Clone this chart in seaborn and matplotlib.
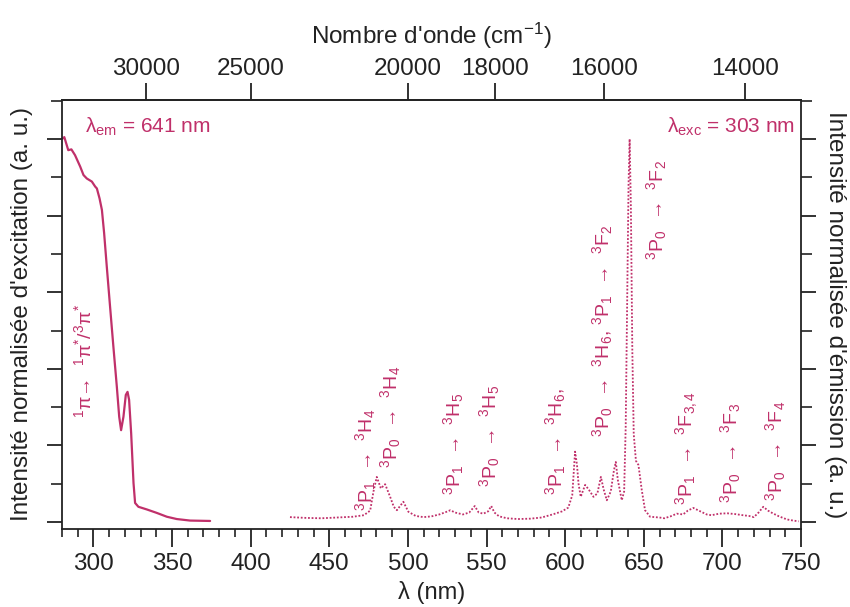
import numpy as np
import matplotlib
matplotlib.use("Agg")
import matplotlib.pyplot as plt
from matplotlib.ticker import MultipleLocator, NullLocator
import seaborn as sns

# ---------------- data ----------------
exc_wl = [280.0, 281.5, 284.0, 286.0, 288.3, 291.6, 293.7, 295.8, 299.0, 301.1,
          302.2, 303.9, 305.4, 306.8, 308.5, 310.6, 312.7, 314.9, 316.4, 317.6,
          319.1, 320.6, 321.7, 322.7, 324.0, 325.5, 326.5, 328.6, 334.0, 340.3,
          346.7, 353.0, 361.5, 374.2]
exc_int = [1.000, 1.005, 0.971, 0.973, 0.958, 0.928, 0.906, 0.897, 0.889, 0.876,
           0.871, 0.845, 0.815, 0.755, 0.667, 0.562, 0.458, 0.353, 0.275, 0.240,
           0.275, 0.332, 0.340, 0.319, 0.232, 0.102, 0.050, 0.040, 0.033, 0.024,
           0.014, 0.008, 0.004, 0.003]

em_wl = [425, 435, 445, 455, 465, 472, 476, 478.1, 480.2, 482.8, 485.5, 488.7,
         491, 493, 495, 497.1, 500.3, 505, 510, 515, 520, 524, 527, 530, 535,
         539, 542.5, 545, 548, 551, 553, 555, 558, 563, 570, 578, 585, 592, 598,
         602, 604.5, 606.3, 607.5, 608.5, 609.9, 612.7, 615, 618, 620.5, 622.7,
         624.5, 626.5, 629, 631, 632.2, 633.5, 636, 637.5, 638.5, 639.5, 640.3,
         641.0, 641.8, 642.7, 643.6, 645, 646.6, 648.7, 650.8, 654, 660, 663, 667,
         671, 675, 678, 681.5, 685, 690, 693, 698, 703, 708, 713, 717, 720, 723,
         726, 729, 732, 736, 741, 745, 748.5]
em_int = [0.013, 0.011, 0.010, 0.012, 0.014, 0.018, 0.030, 0.080, 0.118, 0.088,
          0.099, 0.066, 0.040, 0.031, 0.042, 0.053, 0.027, 0.016, 0.013, 0.015,
          0.020, 0.026, 0.031, 0.025, 0.020, 0.025, 0.042, 0.025, 0.022, 0.028,
          0.042, 0.025, 0.015, 0.010, 0.008, 0.009, 0.012, 0.020, 0.028, 0.038,
          0.070, 0.184, 0.150, 0.100, 0.066, 0.097, 0.085, 0.066, 0.075, 0.118,
          0.085, 0.057, 0.080, 0.135, 0.157, 0.110, 0.057, 0.080, 0.250, 0.600,
          0.880, 1.000, 0.820, 0.450, 0.230, 0.160, 0.149, 0.084, 0.031, 0.014,
          0.012, 0.010, 0.015, 0.022, 0.020, 0.030, 0.037, 0.030, 0.020, 0.018,
          0.022, 0.023, 0.021, 0.018, 0.016, 0.013, 0.025, 0.040, 0.030, 0.023,
          0.015, 0.007, 0.004, 0.002]

x_ticks = [300, 350, 400, 450, 500, 550, 600, 650, 700, 750]
top_ticks = [30000, 25000, 20000, 18000, 16000, 14000]

labels_text = [
    r"$^{1}$π→  $^{1}$π$^{*}$/$^{3}$π$^{*}$",
    r"$^{3}$P$_{1}$  →  $^{3}$H$_{4}$",
    r"$^{3}$P$_{0}$  →  $^{3}$H$_{4}$",
    r"$^{3}$P$_{1}$  →  $^{3}$H$_{5}$",
    r"$^{3}$P$_{0}$  →  $^{3}$H$_{5}$",
    r"$^{3}$P$_{1}$  →  $^{3}$H$_{6}$,",
    r"$^{3}$P$_{0}$  →  $^{3}$H$_{6}$, $^{3}$P$_{1}$  →  $^{3}$F$_{2}$",
    r"$^{3}$P$_{0}$  →  $^{3}$F$_{2}$",
    r"$^{3}$P$_{1}$  →  $^{3}$F$_{3,4}$",
    r"$^{3}$P$_{0}$  →  $^{3}$F$_{3}$",
    r"$^{3}$P$_{0}$  →  $^{3}$F$_{4}$",
]
labels_x = [294.0, 473.0, 488.7, 528.8, 551.7, 594.2, 623.5, 658.0, 677.5, 705.0, 734.0]
labels_y = [0.42, 0.162, 0.274, 0.204, 0.225, 0.211, 0.50, 0.815, 0.193, 0.18, 0.185]

# ---------------- style ----------------
sns.set_style("ticks")
plt.rcParams['font.family'] = ['Liberation Sans', 'DejaVu Sans']
plt.rcParams['mathtext.fontset'] = 'custom'
plt.rcParams['mathtext.rm'] = 'Liberation Sans'
plt.rcParams['mathtext.it'] = 'Liberation Sans:italic'
plt.rcParams['mathtext.bf'] = 'Liberation Sans:bold'

C = '#C0306A'
K = '#222222'

fig, ax = plt.subplots(figsize=(8.5, 6.07), dpi=100)
fig.subplots_adjust(left=0.0729, right=0.9424, top=0.8353, bottom=0.1285)

sns.lineplot(x=exc_wl, y=exc_int, ax=ax, color=C, lw=1.6)
sns.lineplot(x=em_wl, y=em_int, ax=ax, color=C, lw=1.3, linestyle=(0, (1, 1)))

ax.set_xlim(280, 750)
ax.set_ylim(-0.018, 1.102)
ax.set_xticks(x_ticks)
ax.xaxis.set_minor_locator(MultipleLocator(10))
ax.set_yticks(np.arange(0, 1.01, 0.2))
ax.yaxis.set_minor_locator(MultipleLocator(0.1))
ax.set_yticklabels([])

for s in ax.spines.values():
    s.set_linewidth(1.3)
    s.set_color(K)

ax.tick_params(axis='x', which='major', direction='out', length=13, width=1.3,
               labelsize=17.5, pad=4.5, colors=K)
ax.tick_params(axis='x', which='minor', direction='out', length=6, width=1.2, colors=K)
ax.tick_params(axis='y', which='major', direction='out', length=11, width=1.3,
               left=True, right=True, labelleft=False, colors=K)
ax.tick_params(axis='y', which='minor', direction='out', length=8, width=1.2,
               left=True, right=True, colors=K)

ax.set_xlabel("λ (nm)", fontsize=17, color=K, labelpad=4)
ax.set_ylabel("Intensité normalisée d'excitation (a. u.)", fontsize=17.5, color=K)
ax.yaxis.set_label_coords(-0.054, 0.5)
ax.yaxis.label.set_verticalalignment('center')


def inv(x):
    x = np.asarray(x, dtype=float)
    with np.errstate(divide='ignore'):
        return 1e7 / x


secax = ax.secondary_xaxis('top', functions=(inv, inv))
secax.set_xticks(top_ticks)
secax.xaxis.set_minor_locator(NullLocator())
secax.tick_params(axis='x', direction='out', length=12, width=1.3,
                  labelsize=17.5, pad=2.5, colors=K)
secax.set_xlabel("Nombre d'onde (cm$^{-1}$)", fontsize=17.5, color=K, labelpad=10)
secax.spines['top'].set_linewidth(1.3)

fig.text(0.982, (0.8353 + 0.1285) / 2,
         "Intensité normalisée d'émission (a. u.)", rotation=270,
         ha='center', va='center', fontsize=17.5, color=K)

ax.text(294.8, 1.031, r"λ$_{\mathrm{em}}$ = 641 nm", fontsize=15, color=C,
        ha='left', va='center')
ax.text(746.5, 1.031, r"λ$_{\mathrm{exc}}$ = 303 nm", fontsize=15, color=C,
        ha='right', va='center')

for t, x, y in zip(labels_text, labels_x, labels_y):
    ax.text(x, y, t, rotation=90, ha='center', va='center', fontsize=14, color=C)

fig.savefig("out.png", dpi=100)
